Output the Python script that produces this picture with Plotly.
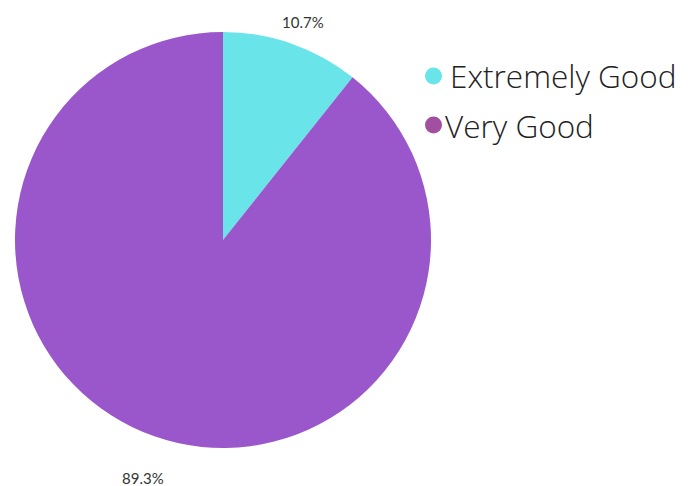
import math
import plotly.graph_objects as go

labels = ["Extremely Good", "Very Good"]
values = [10.7, 89.3]
slice_colors = ["#69E4E8", "#9A57CB"]
legend_colors = ["#69E4E8", "#A24FA1"]

W, H = 695, 486
CX, CY, R = 223, 240, 208  # pie centre and radius in pixels

fig = go.Figure()
fig.add_trace(go.Pie(
    labels=labels,
    values=values,
    sort=False,
    direction="clockwise",
    rotation=0,
    marker=dict(colors=slice_colors, line=dict(width=0)),
    textinfo="none",
    showlegend=False,
    domain=dict(x=[(CX - R) / W, (CX + R) / W], y=[1 - (CY + R) / H, 1 - (CY - R) / H]),
    hoverinfo="label+percent",
))

# percentage labels placed outside each slice at its mid-angle
total = sum(values)
start = 0.0
for v in values:
    mid = (start + v / 2) / total * 2 * math.pi
    start += v
    r = R + 34
    px = CX + r * math.sin(mid)
    py = CY - r * math.cos(mid) + 10
    fig.add_annotation(x=px / W, y=1 - py / H, xref="paper", yref="paper",
                       text=f"{v / total * 100:.1f}%", showarrow=False,
                       xanchor="center", yanchor="middle",
                       font=dict(family="Lato", size=15, color="#333333"))

# custom legend: circle markers with light text
legend_y = [76, 125]
text_x = [448, 443]
for i, (lab, col) in enumerate(zip(labels, legend_colors)):
    y = legend_y[i]
    fig.add_shape(type="circle", xref="paper", yref="paper",
                  x0=425 / W, x1=442 / W,
                  y0=1 - (y + 8.5) / H, y1=1 - (y - 8.5) / H,
                  fillcolor=col, line=dict(width=0))
    fig.add_annotation(x=text_x[i] / W, y=1 - y / H, xref="paper", yref="paper",
                       text=lab, showarrow=False, xanchor="left", yanchor="middle",
                       font=dict(family="Open Sans", size=31.5, color="#222222", weight=300))

fig.update_layout(
    width=W, height=H,
    margin=dict(l=0, r=0, t=0, b=0),
    paper_bgcolor="white",
    plot_bgcolor="white",
)

fig.write_html("out.html")
